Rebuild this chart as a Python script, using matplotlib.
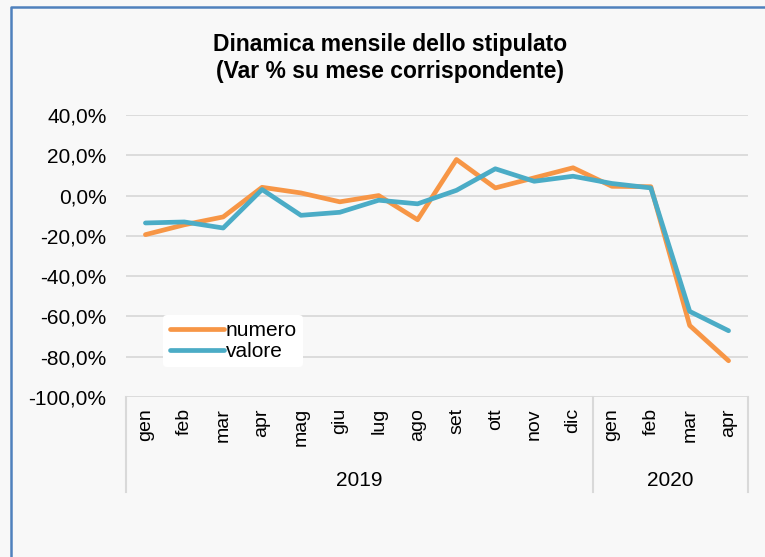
import numpy as np
import matplotlib
matplotlib.use('Agg')
from matplotlib import pyplot as plt
from matplotlib.lines import Line2D
import matplotlib.transforms as mtransforms

# monthly change vs same month of previous year (%)
months = ['gen', 'feb', 'mar', 'apr', 'mag', 'giu', 'lug', 'ago', 'set', 'ott', 'nov', 'dic',
          'gen', 'feb', 'mar', 'apr']
years = ['2019', '2020']
year_sizes = [12, 4]
numero = [-19.4, -14.5, -10.6, 4.1, 1.3, -3.1, 0.0, -12.0, 17.9, 3.8, 8.8, 13.8, 4.6, 4.4, -64.5, -82.0]
valore = [-13.6, -13.1, -16.1, 3.0, -9.8, -8.3, -2.3, -4.1, 2.6, 13.3, 7.1, 9.6, 6.0, 3.8, -57.5, -67.1]
yticks = [-100, -80, -60, -40, -20, 0, 20, 40]

plt.rcParams['font.family'] = ['Liberation Sans', 'DejaVu Sans']

fig = plt.figure(figsize=(7.65, 5.57), dpi=100)
fig.patch.set_facecolor('#F8F8F8')
ax = fig.add_axes([126 / 765, 1 - 397 / 557, (748 - 126) / 765, (397 - 115) / 557])
ax.patch.set_alpha(0)

x = np.arange(len(months))
ax.plot(x, numero, color='#F79646', lw=3.4, solid_capstyle='round', solid_joinstyle='round', label='numero', zorder=3)
ax.plot(x, valore, color='#4BACC6', lw=3.4, solid_capstyle='round', solid_joinstyle='round', label='valore', zorder=4)

ax.set_xlim(-0.5, len(months) - 0.5)
ax.set_ylim(-100, 40)
ax.set_yticks(yticks)
ax.set_yticklabels([('%.1f%%' % v).replace('.', ',') for v in yticks], fontsize=15)
ax.tick_params(axis='y', length=0, pad=14)
for v in yticks:
    ax.axhline(v, color='#D9D9D9', lw=1.3, zorder=1)
for s in ax.spines.values():
    s.set_visible(False)

ax.set_xticks(x)
ax.set_xticklabels(months, rotation=90, fontsize=14)
ax.tick_params(axis='x', length=0, pad=8)

# two-level category axis: separators and year labels
trans = mtransforms.blended_transform_factory(ax.transData, ax.transAxes)
bottom = -(492 - 397) / 282.0
edges = np.concatenate([[0], np.cumsum(year_sizes)]) - 0.5
for e in edges:
    ax.plot([e, e], [0, bottom], color='#D9D9D9', lw=1.5, transform=trans, clip_on=False)
for i, yr in enumerate(years):
    ax.text((edges[i] + edges[i + 1]) / 2, -(480 - 397) / 282.0, yr, transform=trans,
            ha='center', va='center', fontsize=15)

leg = ax.legend(loc='lower left', bbox_to_anchor=(0.06, 0.105), fontsize=15, frameon=True,
                handlelength=2.6, handletextpad=0.1, labelspacing=0.1, borderpad=0.3,
                borderaxespad=0)
leg.get_frame().set_facecolor('white')
leg.get_frame().set_edgecolor('none')
leg.get_frame().set_alpha(1)
leg.set_zorder(5)

fig.text(390 / 765, 1 - 58 / 557, 'Dinamica mensile dello stipulato\n(Var % su mese corrispondente)',
         ha='center', va='center', fontsize=16.5, fontweight='bold', linespacing=1.2)

# chart border (left and top edges visible)
fig.add_artist(Line2D([11 / 765, 11 / 765, 1.0], [0.0, 1 - 7 / 557, 1 - 7 / 557],
                      color='#4F81BD', lw=1.8, transform=fig.transFigure))

fig.savefig('out.png', dpi=100, facecolor=fig.get_facecolor())
